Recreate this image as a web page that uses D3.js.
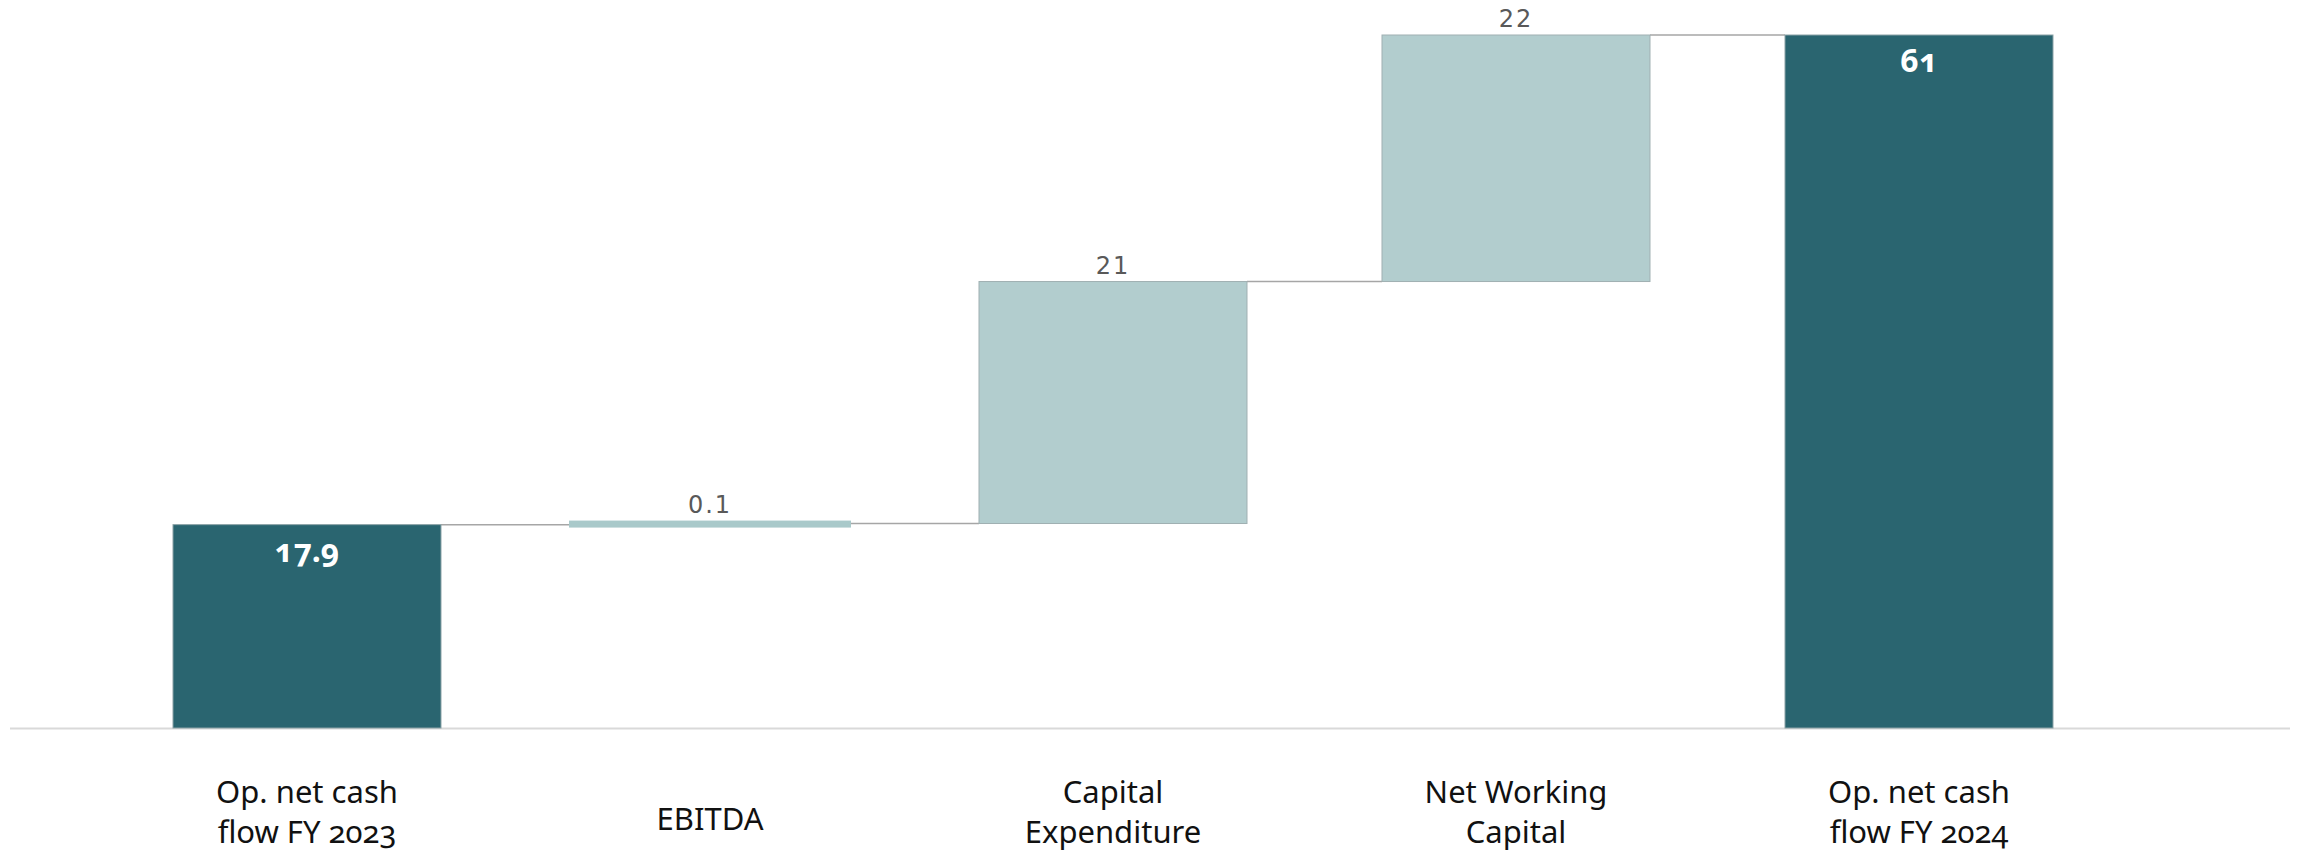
<!DOCTYPE html>
<html>
<head>
<meta charset="utf-8">
<script src="https://cdn.jsdelivr.net/npm/d3@7"></script>
<style>
  html, body { margin: 0; padding: 0; background: #ffffff; }
  svg { display: block; }
</style>
</head>
<body>
<svg id="chart" width="2298" height="858"></svg>
<script>
// ---- data ----
const categories = ["Op. net cash flow FY 2023", "EBITDA", "Capital Expenditure", "Net Working Capital", "Op. net cash flow FY 2024"];
const categoryLines = [["Op. net cash", "flow FY 2023"], ["EBITDA"], ["Capital", "Expenditure"], ["Net Working", "Capital"], ["Op. net cash", "flow FY 2024"]];
const values = [17.9, 0.1, 21.3, 21.7, 61];
const kinds = ["total", "delta", "delta", "delta", "total"];
const valueLabels = ["17.9", "0.1", "21", "22", "61"];

// ---- layout ----
const W = 2298, H = 858;
const baseY = 728, topY = 35;
const svg = d3.select("#chart");

const x = d3.scaleBand()
  .domain(categories)
  .range([105.5, 2120.5])
  .paddingInner(0.335)
  .paddingOuter(0.1675);

const y = d3.scaleLinear().domain([0, 61]).range([baseY, topY]);

// compute waterfall segments
let running = 0;
const bars = categories.map((c, i) => {
  let y0, y1;
  if (kinds[i] === "total") { y0 = 0; y1 = values[i]; running = values[i]; }
  else { y0 = running; y1 = running + values[i]; running = y1; }
  return { cat: c, i, kind: kinds[i], y0, y1, label: valueLabels[i] };
});

const dark = "#2a6570", light = "#b2cdce", ebitdaCol = "#a9c9ca";

// baseline
svg.append("line")
  .attr("x1", 10).attr("x2", 2290)
  .attr("y1", baseY + 0.5).attr("y2", baseY + 0.5)
  .attr("stroke", "#d9d9d9").attr("stroke-width", 2);

// connectors
for (let i = 0; i < bars.length - 1; i++) {
  const lvl = bars[i].y1;
  svg.append("line")
    .attr("x1", x(bars[i].cat) + x.bandwidth())
    .attr("x2", x(bars[i + 1].cat))
    .attr("y1", y(lvl)).attr("y2", y(lvl))
    .attr("stroke", "#a6a6a6").attr("stroke-width", 1.5);
}

// bars
const minH = 7;
bars.forEach(b => {
  const ya = y(Math.max(b.y0, b.y1)), yb = y(Math.min(b.y0, b.y1));
  let top = ya, h = yb - ya;
  let bx = x(b.cat), bw = x.bandwidth();
  if (h < minH) {
    const mid = (ya + yb) / 2; top = mid - minH / 2; h = minH;
    bx -= minH; bw += 2 * minH;
  }
  const isE = b.i === 1;
  svg.append("rect")
    .attr("x", bx).attr("y", top)
    .attr("width", bw).attr("height", h)
    .attr("fill", b.kind === "total" ? dark : (isE ? ebitdaCol : light))
    .attr("stroke", isE ? "none" : (b.kind === "total" ? "#8aa2a6" : "#a0b0b2"))
    .attr("stroke-width", 1);
  b.top = top;
});

// value labels
bars.forEach(b => {
  const cx = x(b.cat) + x.bandwidth() / 2;
  if (b.kind === "total") {
    svg.append("text")
      .attr("x", cx).attr("y", b.top + 37)
      .attr("text-anchor", "middle")
      .style("font-family", "'Noto Sans', 'Open Sans', sans-serif")
      .style("font-weight", "700")
      .style("font-size", "32px")
      .style("font-variant-numeric", "oldstyle-nums")
      .attr("fill", "#ffffff")
      .text(b.label);
  } else {
    svg.append("text")
      .attr("x", cx).attr("y", b.top - 8)
      .attr("text-anchor", "middle")
      .style("font-family", "'DejaVu Sans', sans-serif")
      .style("font-size", "24px")
      .style("letter-spacing", "2px")
      .attr("fill", "#595959")
      .text(b.label);
  }
});

// category labels
categories.forEach((c, i) => {
  const cx = x(c) + x.bandwidth() / 2;
  const lines = categoryLines[i];
  const t = svg.append("text")
    .attr("text-anchor", "middle")
    .style("font-family", "'Noto Sans', 'Open Sans', sans-serif")
    .style("font-size", "31px")
    .style("font-variant-numeric", "oldstyle-nums")
    .attr("fill", "#111111");
  if (lines.length === 1) {
    t.append("tspan").attr("x", cx).attr("y", 830).text(lines[0]);
  } else {
    lines.forEach((ln, k) => {
      t.append("tspan").attr("x", cx).attr("y", 803 + k * 40).text(ln);
    });
  }
});
</script>
</body>
</html>
